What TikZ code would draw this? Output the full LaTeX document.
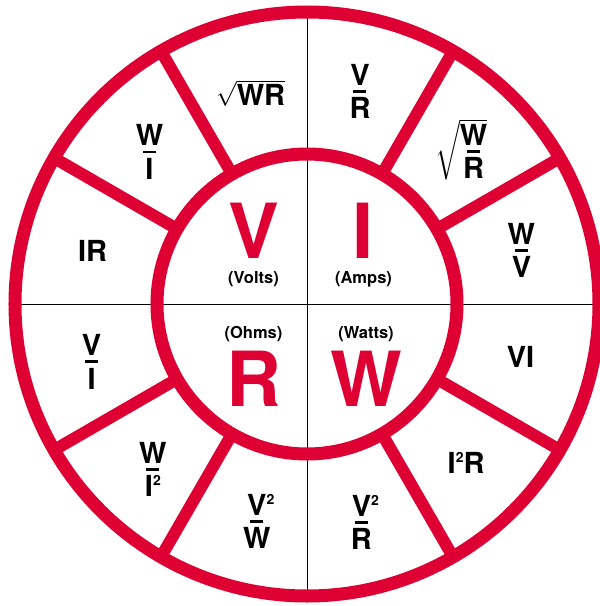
\documentclass[tikz,border=0pt]{standalone}
\usepackage{amsmath}
\usepackage{fontspec}
\setmainfont{TeX Gyre Heros}
\usetikzlibrary{positioning}

\definecolor{ohmred}{RGB}{222,0,51}
\newcommand{\sq}{\raisebox{11pt}{\fontsize{14}{14}\selectfont 2}}
\newcommand{\frc}[2]{\vbox{\offinterlineskip\halign{\hfil##\hfil\cr#1\cr\noalign{\kern5pt}\rule{13pt}{2.5pt}\cr\noalign{\kern5pt}#2\cr}}}

\begin{document}
\begin{tikzpicture}[
  x=1pt, y=1pt,
  node distance=13pt,
  ring/.style={draw=ohmred, line width=13pt},
  spoke/.style={draw=ohmred, line width=12pt},
  axis/.style={draw=black, line width=0.8pt},
  big/.style={inner sep=0pt, text=ohmred, font=\fontsize{76}{80}\selectfont\bfseries},
  unit/.style={inner sep=0pt, font=\fontsize{16.5}{18}\selectfont\bfseries},
  lbl/.style={inner sep=0pt, font=\fontsize{29}{33}\selectfont\bfseries}
]
\useasboundingbox (-307,-302) rectangle (293,304);
\draw[axis] (-292,0) -- (292,0);
\draw[axis] (0,-292) -- (0,292);
\foreach \a in {30,60,120,150,210,240,300,330}
  \draw[spoke] (\a:150pt) -- (\a:292pt);
\draw[ring] (0,0) circle[radius=292pt];
\draw[ring] (0,0) circle[radius=150pt];

\node[big] (v) at (-53.5,73.5) {V};
\node[unit, below=of v] (volts) {(Volts)};
\node[big] (i) at (56.5,73.5) {I};
\node[unit, below=of i] (amps) {(Amps)};
\node[big] (r) at (-53.5,-74.5) {R};
\node[unit, above=9pt of r] (ohms) {(Ohms)};
\node[big] (w) at (59,-74.5) {W};
\node[unit, above=9pt of w] (watts) {(Watts)};

\foreach \ang/\rad/\txt [count=\k] in {
  14/221/{\frc{W}{V}},
  45/218/{$\sqrt{\hbox{\frc{W}{R}}}$},
  76/219/{\frc{V}{R}},
  105/218/{$\sqrt{\hbox{WR}}$},
  136/219/{\frc{W}{I}},
  166/221/{IR},
  195/223/{\frc{V}{I}},
  227/226/{\frc{W}{I\sq}},
  257/223/{\frc{V\rlap{\sq}}{W}},
  284/225/{\frc{V\rlap{\sq}}{R}},
  315/225/{I\sq R},
  346/220/{VI}}
  \node[lbl] (f\k) at (\ang:\rad pt) {\txt};
\end{tikzpicture}
\end{document}
